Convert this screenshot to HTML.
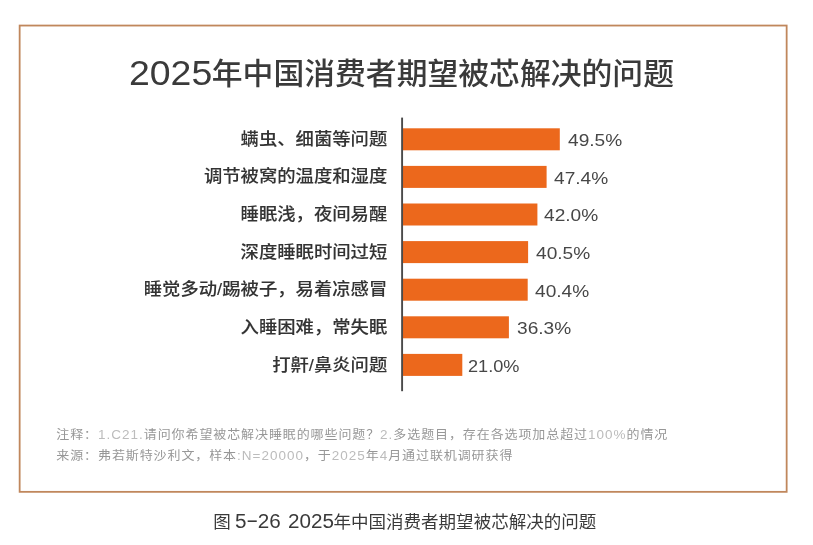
<!DOCTYPE html>
<html lang="zh-CN">
<head>
<meta charset="utf-8">
<title>2025年中国消费者期望被芯解决的问题</title>
<style>
html,body{margin:0;padding:0;background:#fff;}
body{width:813px;height:545px;position:relative;overflow:hidden;
  font-family:"Liberation Sans","Noto Sans CJK SC",sans-serif;color:#3a3a3a;}
.gfx{position:absolute;left:0;top:0;}
.title{position:absolute;left:0;width:813px;top:50px;height:46px;line-height:46px;
  font-size:30.82px;color:#3a3a3a;white-space:nowrap;letter-spacing:0;}
.title .n{position:absolute;left:129.3px;top:-0.3px;font-size:34.4px;transform:scaleX(1.088);transform-origin:0 50%;}
.title .c{position:absolute;left:211.8px;top:1.0px;font-weight:500;transform:scaleY(0.965);transform-origin:50% 55%;}
.cat{position:absolute;right:425.7px;width:400px;text-align:right;font-size:18.35px;height:24px;line-height:24px;white-space:nowrap;color:#333;font-weight:500;transform:scaleY(0.925);transform-origin:50% 50%;-webkit-text-stroke:0.1px #333;}
.val{position:absolute;font-size:17.4px;height:24px;line-height:24px;white-space:nowrap;color:#474747;transform:translateY(var(--ty)) scaleX(var(--sx,1.099));transform-origin:0 50%;top:0;}
.note{position:absolute;left:56.3px;font-size:13px;letter-spacing:0.9px;color:#979797;white-space:nowrap;font-weight:400;height:18px;line-height:18px;transform:scaleY(0.93);transform-origin:0 55%;}
.note .l{color:#bcbcbc;font-size:13.5px;letter-spacing:1.0px;}
.cap{position:absolute;left:0;width:813px;top:509px;height:26px;line-height:26px;font-size:17.55px;color:#3a3a3a;white-space:nowrap;}
.cap span{position:absolute;top:0;}
.cap .a{left:213.3px;top:-0.4px;transform:scaleY(0.965);}
.cap .b{left:235.3px;top:-1.0px;font-size:19.6px;transform:scaleX(1.055);transform-origin:0 50%;}
.cap .b i{font-style:normal;display:inline-block;transform:scaleX(1.8);margin:0 2.1px;position:relative;top:-1.0px;}
.cap .b2{left:288.2px;top:-1.0px;font-size:19.6px;transform:scaleX(1.055);transform-origin:0 50%;}
.cap .c{left:333.4px;top:-0.5px;transform:scaleY(0.965);}
</style>
</head>
<body>
<svg class="gfx" width="813" height="545" viewBox="0 0 813 545">
<rect x="19.65" y="25.55" width="767" height="466.3" fill="none" stroke="#c0875c" stroke-width="1.8"/>
<rect x="402.5" y="128.30" width="157.3" height="22" fill="#ec681c"/>
<rect x="402.5" y="165.90" width="144.1" height="22" fill="#ec681c"/>
<rect x="402.5" y="203.50" width="134.9" height="22" fill="#ec681c"/>
<rect x="402.5" y="241.10" width="125.6" height="22" fill="#ec681c"/>
<rect x="402.5" y="278.70" width="125.2" height="22" fill="#ec681c"/>
<rect x="402.5" y="316.30" width="106.4" height="22" fill="#ec681c"/>
<rect x="402.5" y="353.90" width="59.8" height="22" fill="#ec681c"/>
<rect x="401.15" y="117.6" width="1.9" height="273.6" fill="#4a4a4a"/>
</svg>
<div class="title"><span class="n">2025</span><span class="c">年中国消费者期望被芯解决的问题</span></div>

<div class="cat" style="top:126.7px">螨虫、细菌等问题</div>
<div class="cat" style="top:164.3px">调节被窝的温度和湿度</div>
<div class="cat" style="top:201.8px">睡眠浅，夜间易醒</div>
<div class="cat" style="top:239.6px">深度睡眠时间过短</div>
<div class="cat" style="top:277.0px">睡觉多动/踢被子，易着凉感冒</div>
<div class="cat" style="top:314.8px">入睡困难，常失眠</div>
<div class="cat" style="top:352.6px">打鼾/鼻炎问题</div>

<div class="val" style="left:568px;--ty:128.00px">49.5%</div>
<div class="val" style="left:553.8px;--ty:165.65px">47.4%</div>
<div class="val" style="left:543.6px;--ty:203.30px">42.0%</div>
<div class="val" style="left:536px;--ty:240.95px">40.5%</div>
<div class="val" style="left:535.3px;--ty:278.60px">40.4%</div>
<div class="val" style="left:517px;--ty:316.25px">36.3%</div>
<div class="val" style="left:468.2px;--ty:353.90px;--sx:1.043">21.0%</div>

<div class="note" style="top:426.0px">注释：<span class="l">1.C21.</span>请问你希望被芯解决睡眠的哪些问题？<span class="l">2.</span>多选题目，存在各选项加总超过<span class="l">100%</span>的情况</div>
<div class="note" style="top:446.8px">来源：弗若斯特沙利文，样本<span class="l">:N=20000</span>，于<span class="l">2025</span>年<span class="l">4</span>月通过联机调研获得</div>

<div class="cap"><span class="a">图</span> <span class="n b">5<i>-</i>26</span> <span class="n b2">2025</span><span class="c">年中国消费者期望被芯解决的问题</span></div>
</body>
</html>
